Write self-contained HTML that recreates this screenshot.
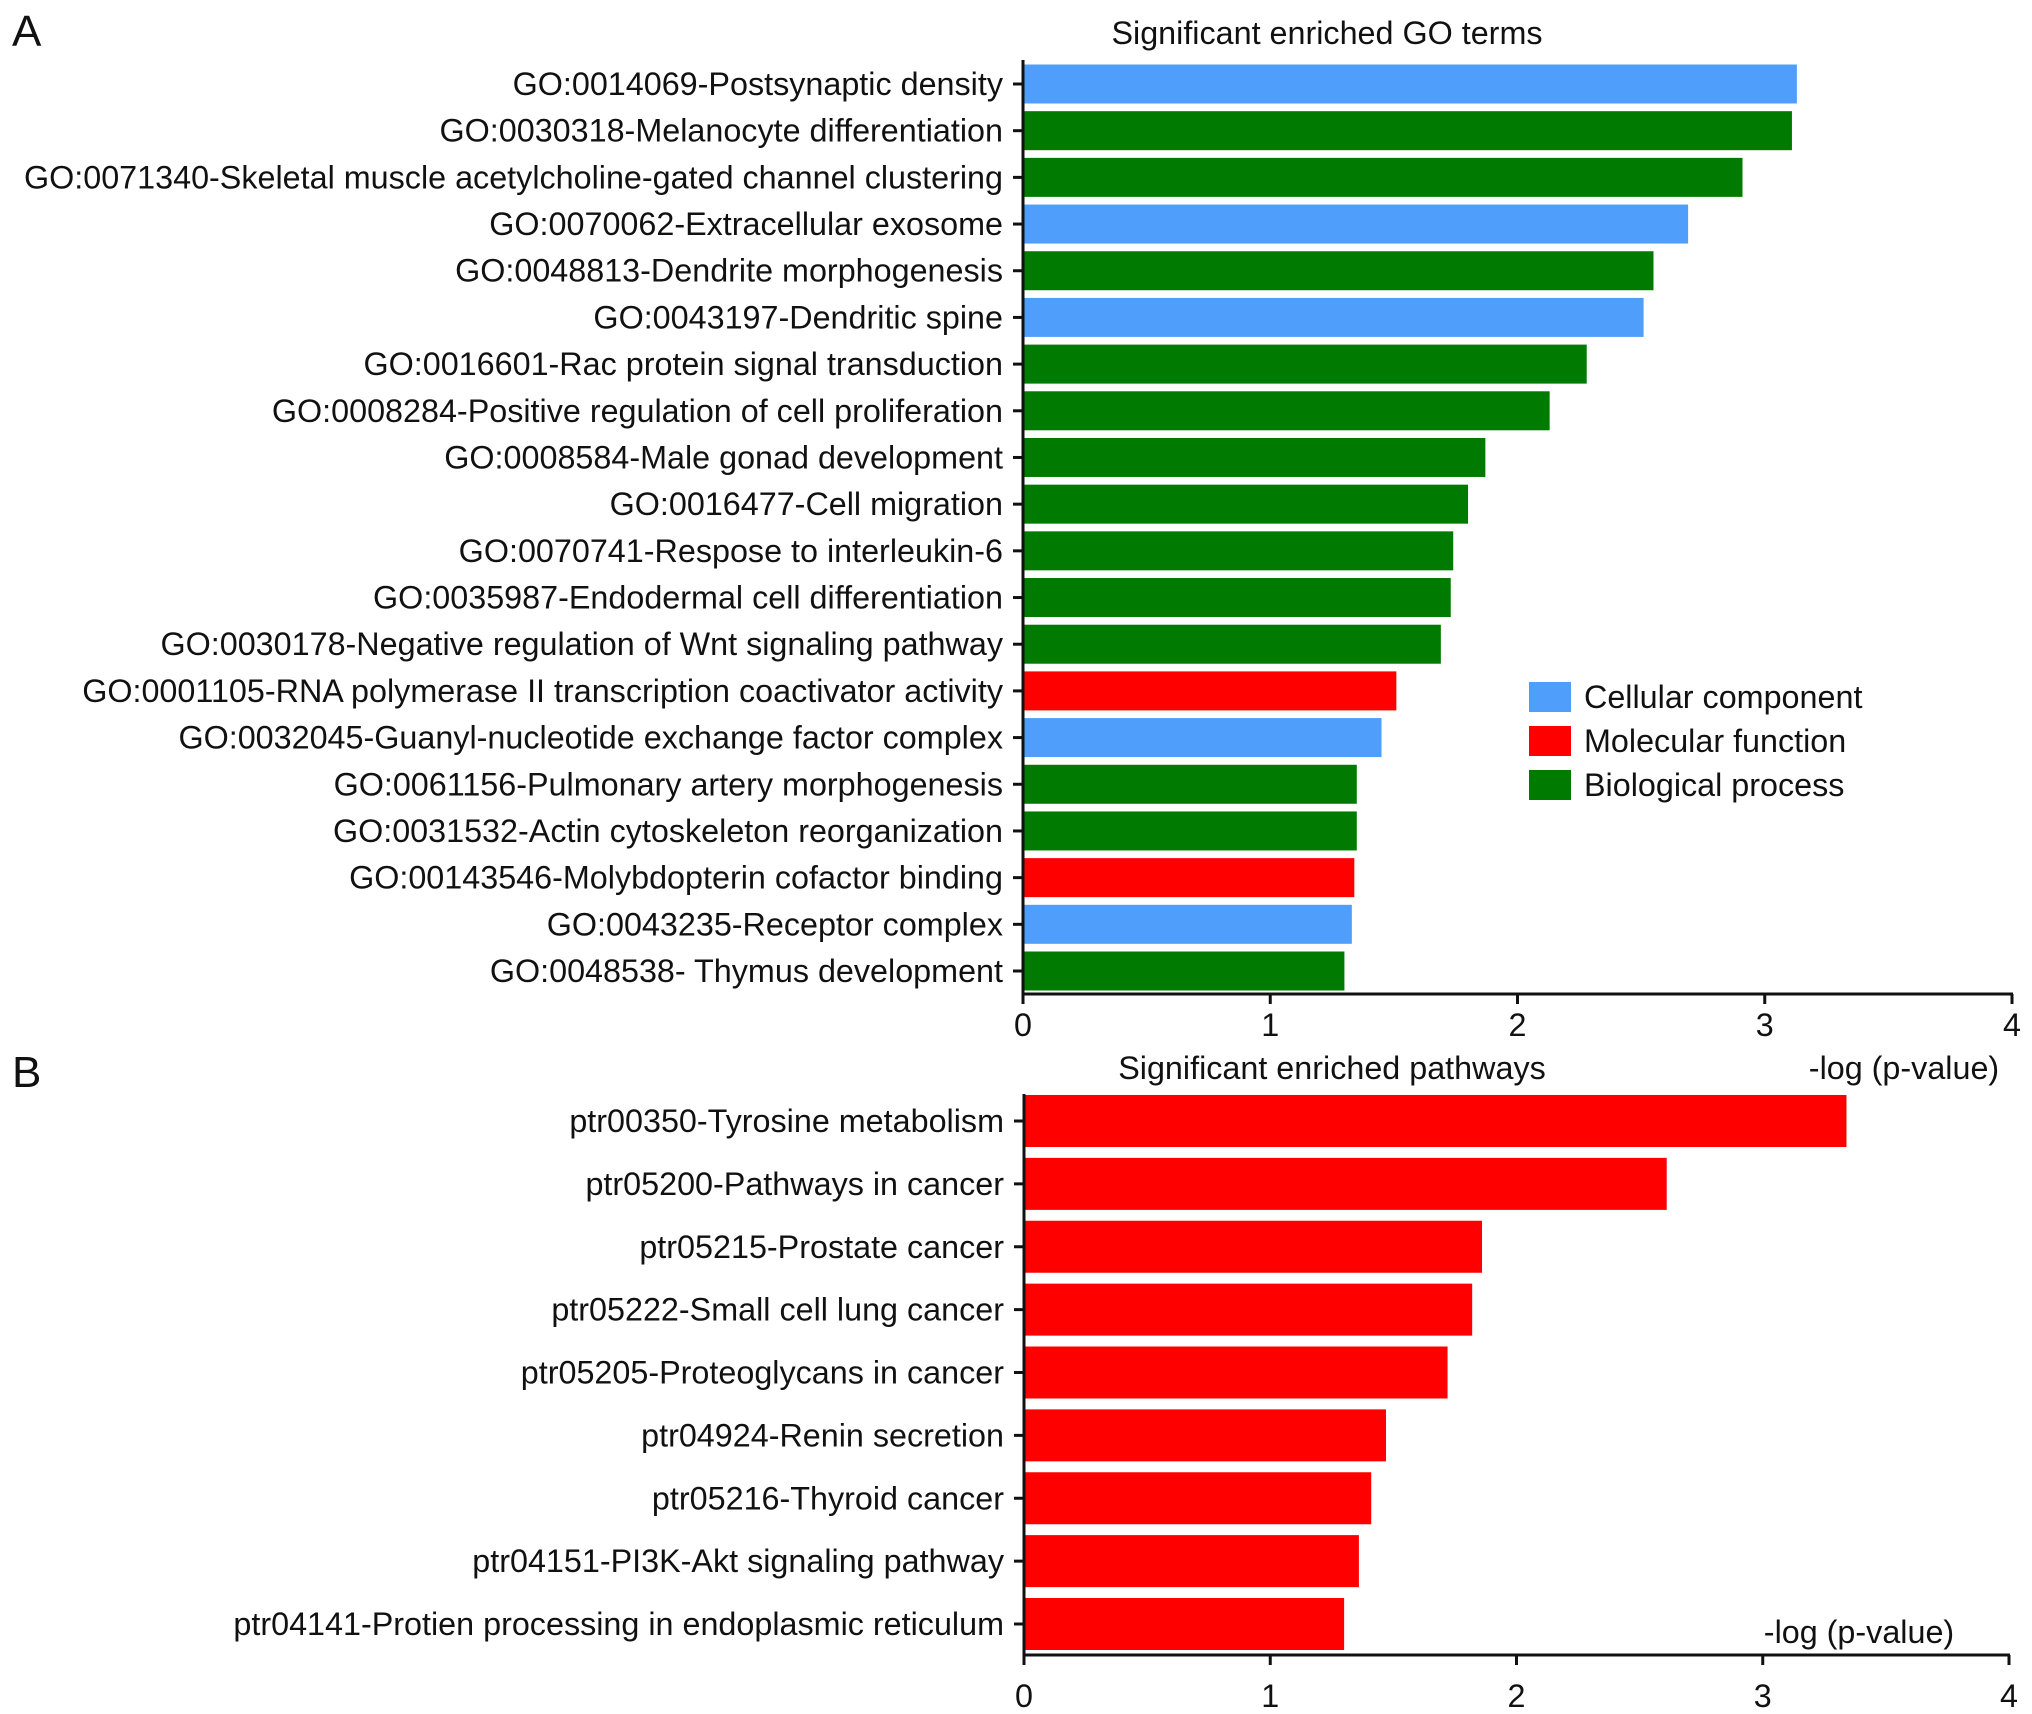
<!DOCTYPE html>
<html><head><meta charset="utf-8"><style>
html,body{margin:0;padding:0;background:#fff;}
svg{display:block;font-family:"Liberation Sans",Arial,sans-serif;}
</style></head><body>
<svg id="c" width="2032" height="1714" viewBox="0 0 2032 1714" xmlns="http://www.w3.org/2000/svg"></svg>
<script>
const goLabels=["GO:0014069-Postsynaptic density","GO:0030318-Melanocyte differentiation","GO:0071340-Skeletal muscle acetylcholine-gated channel clustering","GO:0070062-Extracellular exosome","GO:0048813-Dendrite morphogenesis","GO:0043197-Dendritic spine","GO:0016601-Rac protein signal transduction","GO:0008284-Positive regulation of cell proliferation","GO:0008584-Male gonad development","GO:0016477-Cell migration","GO:0070741-Respose to interleukin-6","GO:0035987-Endodermal cell differentiation","GO:0030178-Negative regulation of Wnt signaling pathway","GO:0001105-RNA polymerase II transcription coactivator activity","GO:0032045-Guanyl-nucleotide exchange factor complex","GO:0061156-Pulmonary artery morphogenesis","GO:0031532-Actin cytoskeleton reorganization","GO:00143546-Molybdopterin cofactor binding","GO:0043235-Receptor complex","GO:0048538- Thymus development"];
const goValues=[3.13,3.11,2.91,2.69,2.55,2.51,2.28,2.13,1.87,1.80,1.74,1.73,1.69,1.51,1.45,1.35,1.35,1.34,1.33,1.30];
const goCats=["CC","BP","BP","CC","BP","CC","BP","BP","BP","BP","BP","BP","BP","MF","CC","BP","BP","MF","CC","BP"];
const pwLabels=["ptr00350-Tyrosine metabolism","ptr05200-Pathways in cancer","ptr05215-Prostate cancer","ptr05222-Small cell lung cancer","ptr05205-Proteoglycans in cancer","ptr04924-Renin secretion","ptr05216-Thyroid cancer","ptr04151-PI3K-Akt signaling pathway","ptr04141-Protien processing in endoplasmic reticulum"];
const pwValues=[3.34,2.61,1.86,1.82,1.72,1.47,1.41,1.36,1.30];
const xTicks=[0,1,2,3,4];
const legendCats=["CC","MF","BP"];
const legendNames=["Cellular component","Molecular function","Biological process"];
const colors={CC:"#4f9efb",MF:"#ff0000",BP:"#007a00"};
const NS="http://www.w3.org/2000/svg";
const svg=document.getElementById('c');
const FS=32, SX=1.01;
function mk(tag,attrs,parent){const e=document.createElementNS(NS,tag);for(const k in attrs)e.setAttribute(k,attrs[k]);(parent||svg).appendChild(e);return e;}
function txt(x,y,s,size,anchor,sx,parent){const t=mk('text',{transform:`translate(${x},${y}) scale(${sx},1)`,'font-size':size,'text-anchor':anchor,fill:'#111'},parent);t.textContent=s;return t;}

function panel(name,labels,values,cats,x0,x4,axisY,topY,c0,cN,barH,tickLabY,titleTxt,titleX,titleY){
  const g=mk('g',{});
  
  
  const xs=v=>x0+(x4-x0)*v/4;
  const n=labels.length;
  const ys=i=>c0+(cN-c0)*i/(n-1);
  values.forEach((v,i)=>{
    const r=mk('rect',{x:xs(0),y:ys(i)-barH/2,width:xs(v)-xs(0),height:barH,fill:colors[cats[i]]},g);
    
    
    mk('line',{x1:xs(0)-10,x2:xs(0),y1:ys(i),y2:ys(i),stroke:'#111','stroke-width':3},g);
    const t=txt(xs(0)-20,ys(i)+11,labels[i],FS,'end',SX,g);
    
    
  });
  mk('line',{x1:xs(0),x2:xs(0),y1:topY,y2:axisY+1,stroke:'#111','stroke-width':3},g);
  mk('line',{x1:xs(0)-1,x2:xs(4)+1,y1:axisY,y2:axisY,stroke:'#111','stroke-width':3},g);
  xTicks.forEach(v=>{
    mk('line',{x1:xs(v),x2:xs(v),y1:axisY,y2:axisY+10,stroke:'#111','stroke-width':3},g);
    const t=txt(xs(v),tickLabY,String(v),FS,'middle',SX,g);
    
    
  });
  const tt=txt(titleX,titleY,titleTxt,FS,'middle',SX,g);
  
  
}
panel('go-chart',goLabels,goValues,goCats,1023,2012,994,60,84,971,39,1036,'Significant enriched GO terms',1327,44);
panel('pathway-chart',pwLabels,pwValues,pwLabels.map(()=>"MF"),1024,2009,1655,1094,1121,1624,52,1707,'Significant enriched pathways',1332,1079);

let a=txt(1904,1079,'-log (p-value)',FS,'middle',SX);


a=txt(1859,1643,'-log (p-value)',FS,'middle',SX);


a=txt(12,46,'A',44,'start',1);


a=txt(12,1087,'B',44,'start',1);



const lg=mk('g',{});


legendCats.forEach((c,i)=>{
  const y=697+44*i;
  const r=mk('rect',{x:1529,y:y-15,width:42,height:30,fill:colors[c]},lg);
  
  
  const t=txt(1584,y+11,legendNames[i],FS,'start',SX,lg);
  
  
});
</script>
</body></html>
